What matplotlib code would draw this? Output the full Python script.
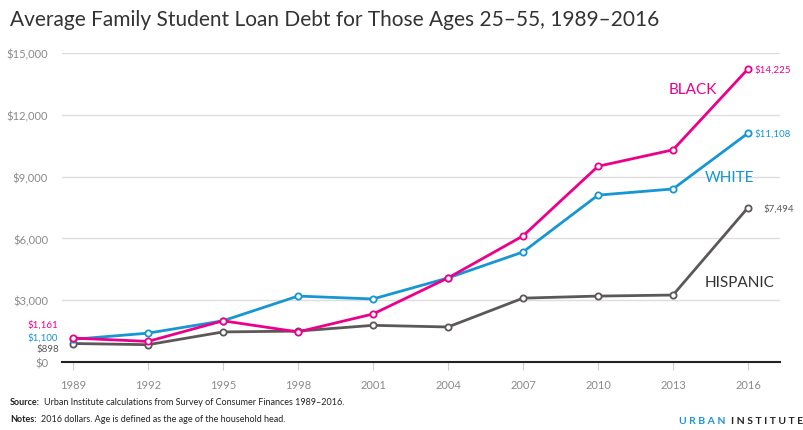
import matplotlib.pyplot as plt

# data
years = [1989, 1992, 1995, 1998, 2001, 2004, 2007, 2010, 2013, 2016]
black = [1161, 1000, 2000, 1460, 2330, 4080, 6120, 9500, 10300, 14225]
white = [1100, 1400, 2000, 3200, 3060, 4080, 5340, 8100, 8400, 11108]
hispanic = [898, 840, 1460, 1500, 1780, 1700, 3100, 3200, 3250, 7494]
yticks = [0, 3000, 6000, 9000, 12000, 15000]

pink = "#ec008b"
blue = "#1696d2"
grey = "#5c5859"

plt.rcParams["font.family"] = ["Lato", "DejaVu Sans"]

fig = plt.figure(figsize=(8.04, 4.31), dpi=100)
ax = fig.add_axes([62 / 804, 1 - 363 / 431, 718 / 804, 309 / 431])

for vals, c in [(hispanic, grey), (white, blue), (black, pink)]:
    ax.plot(years, vals, color=c, lw=2, marker="o", ms=4.5,
            mfc="white", mec=c, mew=1.3, zorder=3, clip_on=False)

ax.set_xlim(1988.56, 2017.28)
ax.set_ylim(0, 15000)
ax.set_xticks(years)
ax.set_yticks(yticks)
ax.set_yticklabels(["$0" if v == 0 else "${:,}".format(v) for v in yticks])
ax.grid(axis="y", color="#dedddd", lw=1)
ax.set_axisbelow(True)
for s in ["top", "right", "left"]:
    ax.spines[s].set_visible(False)
ax.spines["bottom"].set_color("#222222")
ax.spines["bottom"].set_linewidth(1.5)
ax.tick_params(axis="y", length=0, pad=10, labelsize=8, labelcolor="#8a8a8a")
ax.tick_params(axis="x", length=6, color="#cfcfcf", pad=6, labelsize=8, labelcolor="#8a8a8a")

# end labels
ax.annotate("$1,161", (years[0], black[0]), xytext=(-33, 8), textcoords="offset points",
            color=pink, fontsize=7)
ax.annotate("$1,100", (years[0], white[0]), xytext=(-33, 0), textcoords="offset points",
            color=blue, fontsize=7)
ax.annotate("$898", (years[0], hispanic[0]), xytext=(-26, -5.5), textcoords="offset points",
            color=grey, fontsize=7)
ax.annotate("$14,225", (years[-1], black[-1]), xytext=(5, 0), textcoords="offset points",
            color=pink, fontsize=7, va="center")
ax.annotate("$11,108", (years[-1], white[-1]), xytext=(5, 0), textcoords="offset points",
            color=blue, fontsize=7, va="center")
ax.annotate("$7,494", (years[-1], hispanic[-1]), xytext=(11, 0), textcoords="offset points",
            color=grey, fontsize=7, va="center")

# series names
fig.text(669 / 804, 1 - 90 / 431, "BLACK", color=pink, fontsize=11, va="center")
fig.text(705 / 804, 1 - 178 / 431, "WHITE", color=blue, fontsize=11, va="center")
fig.text(705 / 804, 1 - 283 / 431, "HISPANIC", color="#333333", fontsize=11, va="center")

fig.text(10 / 804, 1 - 20 / 431,
         "Average Family Student Loan Debt for Those Ages 25\u201355, 1989\u20132016",
         fontsize=15, color="#333333", va="center")

fig.text(10 / 804, 1 - 403 / 431, "Source:", fontsize=6.5, weight="bold", color="#222222", va="center")
fig.text(44 / 804, 1 - 403 / 431,
         "Urban Institute calculations from Survey of Consumer Finances 1989\u20132016.",
         fontsize=6.5, color="#222222", va="center")
fig.text(10 / 804, 1 - 420 / 431, "Notes:", fontsize=6.5, weight="bold", color="#222222", va="center")
fig.text(41 / 804, 1 - 420 / 431,
         "2016 dollars. Age is defined as the age of the household head.",
         fontsize=6.5, color="#222222", va="center")

fig.text(679 / 804, 1 - 422 / 431, "U R B A N", fontsize=7.5, weight="bold", color=blue, va="center")
fig.text(731 / 804, 1 - 422 / 431, "I N S T I T U T E", fontsize=7.5, weight="bold",
         color="#222222", va="center")

fig.savefig("out.png", dpi=100)
